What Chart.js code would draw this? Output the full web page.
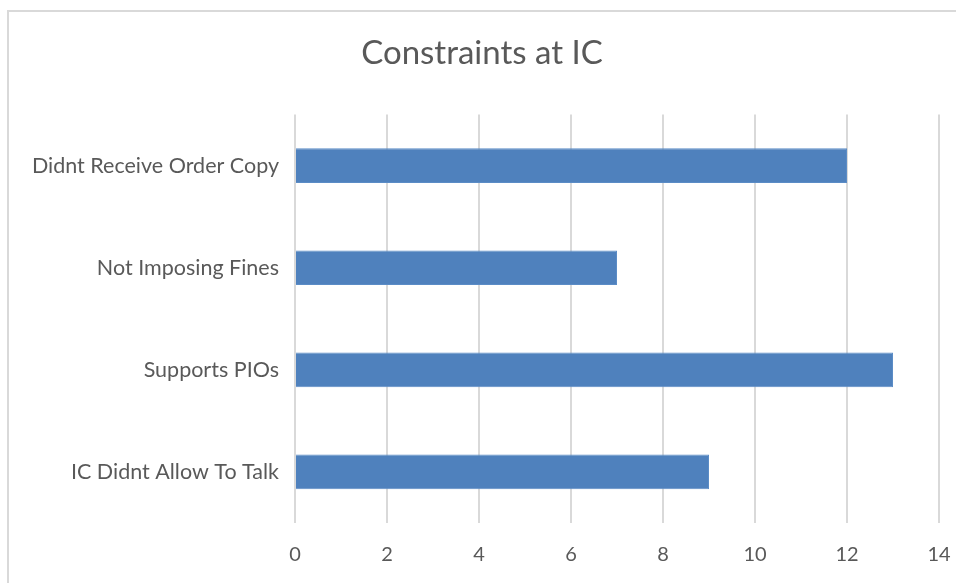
<!DOCTYPE html>
<html>
<head>
<meta charset="utf-8">
<script src="https://cdn.jsdelivr.net/npm/chart.js@4"></script>
<style>
    html, body { margin: 0; padding: 0; background: #fff; }
    #frame {
        position: absolute; left: 7px; top: 10px; width: 1000px; height: 600px;
        border-left: 2px solid #d9d9d9; border-top: 2px solid #d9d9d9;
    }
    #wrap { position: absolute; left: 0; top: 0; width: 956px; height: 583px; }
</style>
</head>
<body>
<div id="frame"></div>
<div id="wrap"><canvas id="myChart" width="956" height="583"></canvas></div>
<script>
const categorii = ['Didnt Receive Order Copy', 'Not Imposing Fines', 'Supports PIOs', 'IC Didnt Allow To Talk'];
const valori = [12, 7, 13, 9];
const titlu = 'Constraints at IC';

document.addEventListener('DOMContentLoaded', function() {
    const ctx = document.getElementById('myChart').getContext('2d');
    const gri = '#595959';

    new Chart(ctx, {
        type: 'bar',
        data: {
            labels: categorii,
            datasets: [{
                data: valori,
                backgroundColor: '#4f81bd',
                borderColor: '#5b8cc6',
                borderWidth: 1,
                barPercentage: 0.34,
                categoryPercentage: 1
            }]
        },
        options: {
            indexAxis: 'y',
            responsive: false,
            animation: false,
            layout: { padding: { left: 25, right: 17, top: 0, bottom: 0 } },
            plugins: {
                legend: { display: false },
                tooltip: { enabled: false },
                title: {
                    display: true,
                    text: titlu,
                    color: gri,
                    font: { family: 'Lato', size: 33, weight: 'normal' },
                    padding: { top: 34, bottom: 41 }
                }
            },
            scales: {
                x: {
                    min: 0,
                    max: 14,
                    ticks: {
                        stepSize: 2,
                        color: gri,
                        padding: 20,
                        font: { family: 'Lato', size: 20 }
                    },
                    grid: { color: '#d9d9d9', lineWidth: 2, drawTicks: false },
                    border: { display: false },
                    afterFit: function(scale) {
                        scale.height = 60;
                        scale.paddingLeft = 0;
                        scale.paddingRight = 0;
                    }
                },
                y: {
                    ticks: {
                        color: gri,
                        padding: 16,
                        font: { family: 'Lato', size: 21.5 }
                    },
                    grid: { display: false, drawTicks: false },
                    border: { display: false },
                    afterFit: function(scale) { scale.width = 270; }
                }
            }
        }
    });
});
</script>
</body>
</html>
